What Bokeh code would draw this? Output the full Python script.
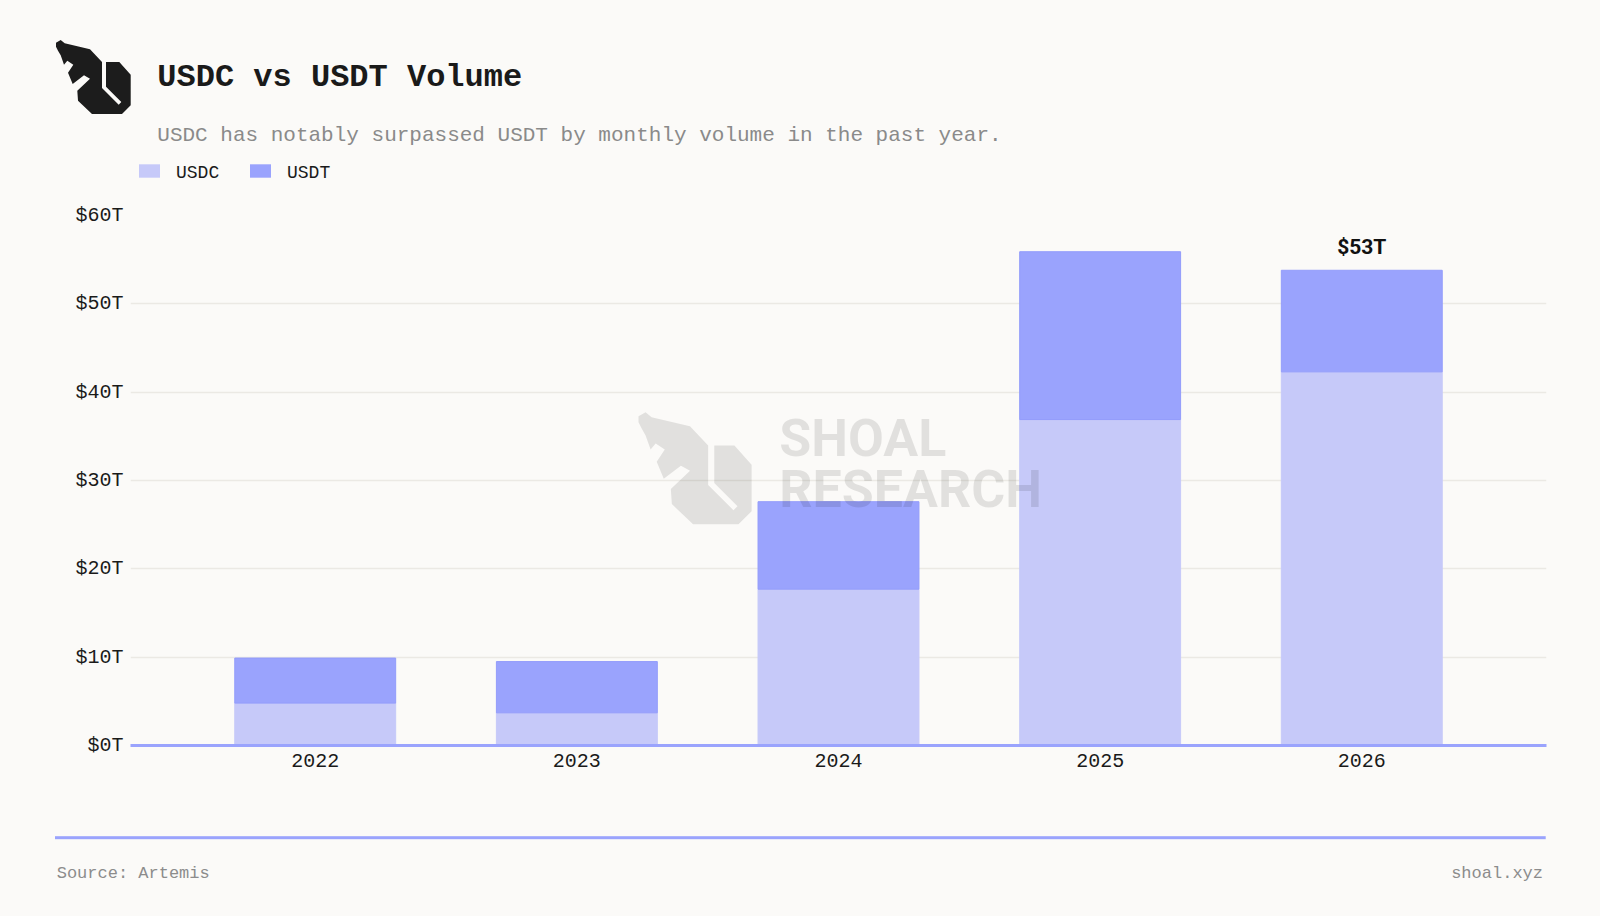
import html
import numpy as np
from bokeh.plotting import figure
from bokeh.models import Range1d, PrintfTickFormatter, FixedTicker, ColumnDataSource, Div
from bokeh.layouts import column
from bokeh.embed import file_html
from bokeh.resources import INLINE
from bokeh.core.properties import value

# ---------------- data ----------------
years = ["2022", "2023", "2024", "2025", "2026"]
usdc = [4.8, 3.7, 17.7, 36.9, 42.3]
usdt = [5.1, 5.8, 9.9, 19.0, 11.5]
series = ["USDC", "USDT"]
y_ticks = [0, 10, 20, 30, 40, 50, 60]
annot_year = "2026"
annot_text = "$53T"

title_text = "USDC vs USDT Volume"
subtitle_text = "USDC has notably surpassed USDT by monthly volume in the past year."
source_text = "Source: Artemis"
site_text = "shoal.xyz"
wm_line1 = "SHOAL"
wm_line2 = "RESEARCH"

# ---------------- style ----------------
BG = "#fbfaf8"
FILL = ["#c6c9f9", "#9aa3fd"]
EDGE = ["#c6c9f9", "#939cfb"]
ACCENT = "#9aa3fd"
GRID = "#ebe9e4"
MONO = "Liberation Mono"
W = 1600
HDR_H, MAIN_H, FTR_H = 200, 600, 116

# logo silhouette outline
LOGO = [(48, 38), (62, 30), (74, 40), (150, 58), (186, 96), (186, 174), (236, 224),
        (244, 216), (198, 170), (198, 96), (238, 96), (272, 134), (272, 226),
        (246, 252), (156, 252), (114, 212), (112, 182), (150, 146), (132, 136),
        (98, 162), (84, 128), (100, 104), (82, 92), (72, 104), (62, 76), (54, 62), (48, 50)]


def logo_xy(x0, y0, scale):
    a = np.array(LOGO, dtype=float)
    xs = x0 + (a[:, 0] - 48) / 3.0 * scale
    ys = y0 + (a[:, 1] - 30) / 3.0 * scale
    return list(xs), list(ys)


def svg_text(x, y, s, size, color, weight="normal", anchor="start", family=MONO):
    style = (f"font-family:'{family}',monospace;font-size:{size}px;font-weight:{weight};"
             f"fill:{color};white-space:pre")
    return (f'<text x="{x}" y="{y}" text-anchor="{anchor}" style="{style}">'
            f'{html.escape(s)}</text>')


# ---------------- header (logo, title, subtitle, legend) ----------------
lx, ly = logo_xy(56, 40, 1.0)
pts = " ".join(f"{a:.1f},{b:.1f}" for a, b in zip(lx, ly))
leg_x = [139, 250]
parts = [f'<svg xmlns="http://www.w3.org/2000/svg" width="{W}" height="{HDR_H}" style="display:block">',
         f'<rect x="0" y="0" width="{W}" height="{HDR_H}" fill="{BG}"/>',
         f'<polygon points="{pts}" fill="#1c1c1c"/>',
         svg_text(157.3, 85.7, title_text, 32, "#1a1a1a", weight="bold"),
         svg_text(157.3, 141, subtitle_text, 21, "#8a8a8a")]
for i, name in enumerate(series):
    parts.append(f'<rect x="{leg_x[i]}" y="164.3" width="21" height="13.4" fill="{FILL[i]}"/>')
    parts.append(svg_text(leg_x[i] + 37, 178.3, name, 18, "#1a1a1a"))
parts.append("</svg>")
header = Div(text="".join(parts), width=W, height=HDR_H, margin=0,
             styles={"background-color": BG, "padding": "0"})

# ---------------- main chart ----------------
xpos = list(range(len(years)))
src = ColumnDataSource(dict(x=xpos, USDC=usdc, USDT=usdt))
p = figure(x_range=Range1d(-0.706, len(years) - 1 + 0.706),
           y_range=Range1d(0, 60), frame_width=1416, frame_height=530,
           min_border_left=130, min_border_right=54, min_border_top=15, min_border_bottom=55,
           output_backend="svg", toolbar_location=None,
           background_fill_color=BG, border_fill_color=BG, outline_line_color=None)
p.extra_x_ranges = {"px": Range1d(130, 1546)}
p.extra_y_ranges = {"px": Range1d(745, 215)}
PX = dict(x_range_name="px", y_range_name="px")

p.vbar_stack(series, x="x", width=0.615, source=src, fill_color=FILL, line_color=EDGE, line_width=1)

totals = [a + b for a, b in zip(usdc, usdt)]
ai = years.index(annot_year)
p.text(x=[xpos[ai]], y=[totals[ai]], text=[annot_text], text_font=value("Roboto"),
       text_font_style="bold", text_font_size="21px", text_color="#111111",
       text_align="center", text_baseline="alphabetic", y_offset=-23)

# watermark
wx, wy = logo_xy(638, 411.7, 1.515)
p.patch(wx, wy, fill_color="black", fill_alpha=0.1, line_color=None, **PX)
p.text(x=[778.7, 778.7], y=[437.5, 489.0], text=[wm_line1, wm_line2], text_font=value("Roboto"),
       text_font_style="bold", text_font_size="52px", text_color="black", text_alpha=0.1,
       text_baseline="alphabetic", **PX)

p.xgrid.visible = False
p.ygrid.grid_line_color = GRID
p.ygrid.grid_line_width = 1.5
p.xaxis.ticker = FixedTicker(ticks=xpos)
p.xaxis.major_label_overrides = {i: y for i, y in zip(xpos, years)}
p.yaxis.ticker = FixedTicker(ticks=y_ticks)
p.yaxis.formatter = PrintfTickFormatter(format="$%dT")
p.yaxis.axis_line_color = None
p.axis.major_tick_line_color = None
p.axis.minor_tick_line_color = None
p.axis.major_tick_out = 0
p.axis.major_tick_in = 0
p.axis.major_label_text_font = MONO
p.axis.major_label_text_font_size = "20px"
p.axis.major_label_text_color = "#1a1a1a"
p.yaxis.major_label_standoff = 7
p.xaxis.major_label_standoff = 8
p.xaxis.axis_line_color = ACCENT
p.xaxis.axis_line_width = 3

# ---------------- footer ----------------
fparts = [f'<svg xmlns="http://www.w3.org/2000/svg" width="{W}" height="{FTR_H}" style="display:block">',
          f'<rect x="0" y="0" width="{W}" height="{FTR_H}" fill="{BG}"/>',
          f'<rect x="55" y="36.2" width="1490.7" height="3" fill="{ACCENT}"/>',
          svg_text(56.7, 78.3, source_text, 17, "#8c8c8c"),
          svg_text(1543, 78.3, site_text, 17, "#8c8c8c", anchor="end"),
          "</svg>"]
footer = Div(text="".join(fparts), width=W, height=FTR_H, margin=0,
             styles={"background-color": BG, "padding": "0"})

layout = column(header, p, footer, spacing=0, styles={"background-color": BG})
open("out.html", "w").write(file_html(layout, INLINE))
